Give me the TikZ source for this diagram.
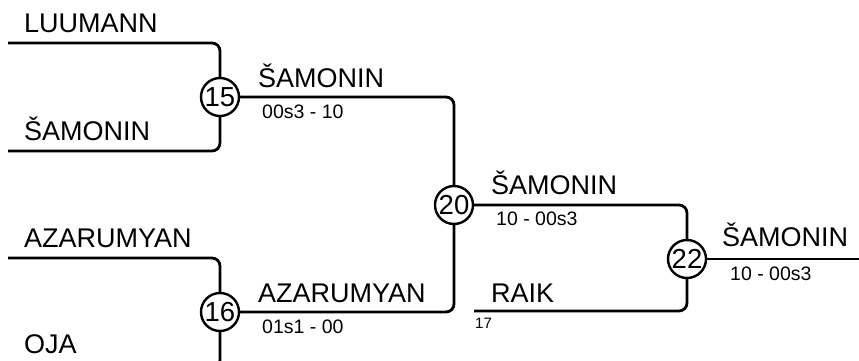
\documentclass[tikz,border=0pt]{standalone}
\usepackage{fontspec}
\setmainfont{Liberation Sans}
\begin{document}
\begin{tikzpicture}[x=1pt,y=-1pt,
  conn/.style={line width=2.8pt, rounded corners=8pt},
  mcirc/.style={circle, draw, line width=2.4pt, minimum size=38pt, inner sep=0pt, font=\fontsize{27.5}{27.5}\selectfont},
  pname/.style={anchor=base west, inner sep=0pt, font=\fontsize{27}{27}\selectfont},
  pscore/.style={anchor=base west, inner sep=0pt, font=\fontsize{19.5}{19.5}\selectfont},
  pseed/.style={anchor=base west, inner sep=0pt, font=\fontsize{15}{15}\selectfont}]
\useasboundingbox (0,0) rectangle (859,361);
\clip (0,0) rectangle (859,361);
% match circles
\node[mcirc] (m15) at (220,97) {15};
\node[mcirc] (m16) at (220,312) {16};
\node[mcirc] (m20) at (454,205) {20};
\node[mcirc] (m22) at (687,259) {22};
% free ends
\coordinate (e1) at (8,43);
\coordinate (e2) at (8,151);
\coordinate (e3) at (8,258);
\coordinate (e4) at (8,368);
\coordinate (e5) at (474,311);
\coordinate (e6) at (859,259);
% names
\node[pname] (n1) at (24,33) {LUUMANN};
\node[pname] (n2) at (24,140) {ŠAMONIN};
\node[pname] (n3) at (24,247) {AZARUMYAN};
\node[pname] (n4) at (24,353) {OJA};
\node[pname] (n5) at (258,88) {ŠAMONIN};
\node[pscore] (s5) at (262,118) {00s3 - 10};
\node[pname] (n6) at (258,302) {AZARUMYAN};
\node[pscore] (s6) at (262,333) {01s1 - 00};
\node[pname] (n7) at (491,194) {ŠAMONIN};
\node[pscore] (s7) at (496,225) {10 - 00s3};
\node[pname] (n8) at (491,302) {RAIK};
\node[pseed] (d8) at (475,328) {17};
\node[pname] (n9) at (722,246) {ŠAMONIN};
\node[pscore] (s9) at (730,280) {10 - 00s3};
% connectors
\draw[conn] (e1) -| (m15);
\draw[conn] (e2) -| (m15);
\draw[conn] (e3) -| (m16);
\draw[conn] (e4) -| (m16);
\draw[conn] (m15) -| (m20);
\draw[conn] (m16) -| (m20);
\draw[conn] (m20) -| (m22);
\draw[conn] (e5) -| (m22);
\draw[conn] (m22) -- (e6);
\end{tikzpicture}
\end{document}
